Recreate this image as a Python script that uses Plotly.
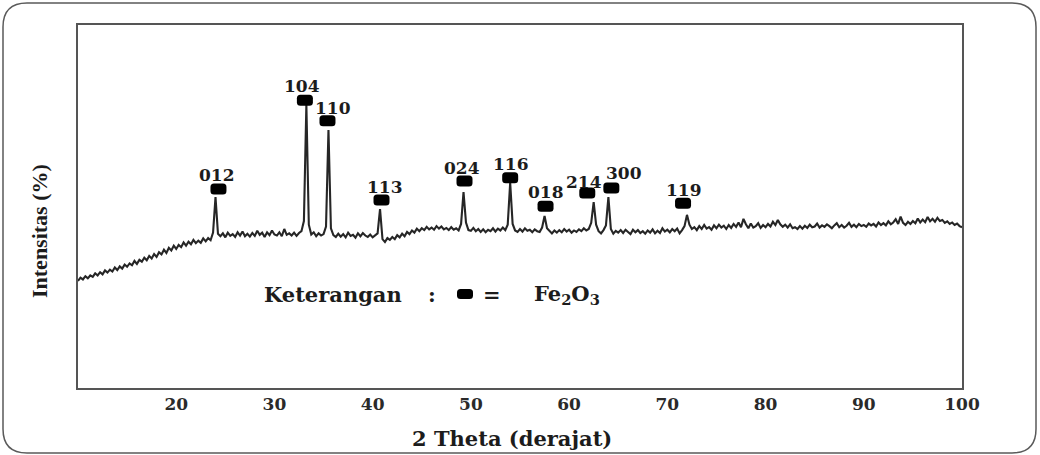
import plotly.graph_objects as go

# ---------------- data ----------------
scan_start = 10.0      # 2-theta of the first sample (degree)
scan_step = 0.25       # 2-theta step between samples (degree)

# intensity (%), one row per degree: values at d+0.00, d+0.25, d+0.50, d+0.75
intensity_rows = [
    [29.5, 30.4, 29.9, 30.8],  # 10
    [30.2, 31.0, 30.6, 31.6],  # 11
    [31.0, 31.9, 31.3, 32.4],  # 12
    [31.8, 32.6, 32.1, 33.2],  # 13
    [32.5, 33.5, 32.9, 34.0],  # 14
    [33.4, 34.3, 33.8, 35.0],  # 15
    [34.2, 35.3, 34.8, 35.9],  # 16
    [35.2, 36.4, 35.7, 36.9],  # 17
    [36.1, 37.4, 36.8, 38.1],  # 18
    [37.2, 38.6, 37.9, 39.2],  # 19
    [38.3, 39.4, 38.8, 40.1],  # 20
    [39.2, 40.3, 39.6, 40.8],  # 21
    [39.9, 40.6, 40.0, 41.2],  # 22
    [40.4, 41.3, 40.7, 42.8],  # 23
    [52.6, 42.5, 41.8, 42.6],  # 24
    [41.5, 42.8, 41.9, 42.4],  # 25
    [41.6, 42.9, 42.0, 43.1],  # 26
    [41.8, 42.5, 41.7, 42.7],  # 27
    [41.9, 43.3, 42.2, 42.8],  # 28
    [41.6, 42.9, 42.1, 43.4],  # 29
    [42.3, 42.0, 42.9, 41.8],  # 30
    [43.8, 42.2, 42.6, 42.0],  # 31
    [42.8, 41.9, 42.7, 43.2],  # 32
    [46.0, 78.0, 45.0, 42.3],  # 33
    [42.9, 41.8, 42.6, 42.0],  # 34
    [42.4, 44.5, 71.1, 44.0],  # 35
    [42.1, 41.6, 42.5, 41.7],  # 36
    [42.4, 41.5, 42.8, 41.9],  # 37
    [42.2, 41.4, 42.6, 41.8],  # 38
    [42.7, 42.0, 41.6, 42.3],  # 39
    [41.5, 42.0, 42.6, 49.3],  # 40
    [41.0, 40.2, 41.3, 40.8],  # 41
    [41.6, 41.0, 42.1, 41.5],  # 42
    [42.5, 41.8, 43.0, 42.4],  # 43
    [43.4, 42.8, 43.9, 43.2],  # 44
    [44.0, 43.5, 44.4, 43.7],  # 45
    [44.2, 43.6, 44.6, 43.9],  # 46
    [44.5, 43.7, 44.1, 43.5],  # 47
    [44.3, 43.6, 44.0, 43.4],  # 48
    [45.2, 54.0, 45.6, 43.5],  # 49
    [43.3, 44.1, 43.2, 43.8],  # 50
    [43.0, 43.7, 42.9, 43.6],  # 51
    [43.2, 44.0, 43.1, 43.9],  # 52
    [43.4, 44.2, 43.5, 45.0],  # 53
    [56.5, 45.2, 43.4, 43.0],  # 54
    [43.8, 43.1, 44.0, 43.3],  # 55
    [43.6, 42.9, 43.7, 43.2],  # 56
    [43.0, 44.2, 47.4, 44.0],  # 57
    [43.2, 42.6, 43.4, 42.8],  # 58
    [43.5, 42.9, 43.8, 43.1],  # 59
    [43.6, 42.8, 43.4, 43.0],  # 60
    [43.7, 43.2, 44.0, 43.4],  # 61
    [43.8, 45.5, 51.2, 45.0],  # 62
    [43.2, 42.6, 43.5, 44.8],  # 63
    [52.6, 43.8, 42.5, 43.3],  # 64
    [42.8, 43.5, 42.7, 43.6],  # 65
    [43.0, 42.4, 43.6, 42.9],  # 66
    [43.5, 42.7, 43.2, 42.5],  # 67
    [43.4, 42.8, 43.7, 42.6],  # 68
    [43.3, 42.7, 44.0, 43.1],  # 69
    [43.6, 42.9, 43.8, 43.2],  # 70
    [43.9, 42.6, 43.5, 44.6],  # 71
    [47.7, 45.0, 43.8, 44.3],  # 72
    [43.5, 44.6, 43.8, 44.9],  # 73
    [43.9, 44.3, 43.6, 44.8],  # 74
    [44.0, 45.0, 44.2, 44.7],  # 75
    [43.8, 44.9, 44.1, 45.2],  # 76
    [44.4, 45.6, 44.3, 46.6],  # 77
    [45.1, 44.0, 45.3, 44.2],  # 78
    [44.6, 45.4, 44.1, 44.9],  # 79
    [44.3, 45.2, 44.5, 45.8],  # 80
    [44.9, 46.3, 45.1, 44.4],  # 81
    [45.0, 44.2, 45.1, 44.0],  # 82
    [44.3, 43.8, 44.6, 43.9],  # 83
    [44.7, 44.1, 45.0, 44.3],  # 84
    [44.5, 45.3, 44.2, 44.8],  # 85
    [44.4, 45.1, 44.6, 44.0],  # 86
    [44.8, 45.4, 44.3, 44.9],  # 87
    [44.2, 44.7, 45.5, 44.4],  # 88
    [45.0, 44.3, 45.2, 44.6],  # 89
    [44.9, 44.4, 45.3, 44.8],  # 90
    [45.2, 44.5, 45.6, 44.9],  # 91
    [45.4, 44.8, 45.9, 45.1],  # 92
    [45.6, 46.5, 45.2, 47.2],  # 93
    [45.5, 44.9, 45.8, 45.2],  # 94
    [46.0, 45.4, 46.7, 45.6],  # 95
    [46.4, 45.7, 47.1, 45.9],  # 96
    [46.6, 45.8, 46.9, 46.0],  # 97
    [46.3, 45.5, 45.9, 45.2],  # 98
    [45.6, 44.9, 45.3, 44.6],  # 99
]
intensity_end = [44.3]  # 100

# Fe2O3 reflections (hkl) and their marker / label positions (2-theta, %)
peak_labels = ["012", "104", "110", "113", "024", "116", "018", "214", "300", "119"]
peak_marker_x = [24.3, 33.1, 35.4, 40.9, 49.35, 54.0, 57.6, 61.85, 64.3, 71.6]
peak_marker_y = [54.8, 79.3, 73.6, 51.8, 57.0, 57.9, 50.1, 53.7, 55.1, 50.9]
peak_label_x = [24.17, 32.85, 36.0, 41.3, 49.05, 54.05, 57.6, 61.5, 65.55, 71.7]
peak_label_y = [58.7, 83.2, 77.1, 55.4, 60.6, 61.7, 54.0, 56.7, 59.2, 54.5]

tick_values = [20, 30, 40, 50, 60, 70, 80, 90, 100]
tick_text = ["20", "30", "40", "50", "60", "70", "80", "90", "100"]

x_title = "2 Theta (derajat)"
y_title = "Intensitas (%)"
note_words = ["Keterangan", ":", "=", "Fe<sub>2</sub>O<sub>3</sub>"]

# ---------------- build ----------------
intensity = [v for row in intensity_rows for v in row] + intensity_end
two_theta = [scan_start + scan_step * i for i in range(len(intensity))]

W, H = 1040, 455
ML, MR, MT, MB = 78, 78, 25, 67
PW, PH = W - ML - MR, H - MT - MB

def px_to_paper_x(px):
    return (px - ML) / PW

def py_to_paper_y(py):
    return (H - MB - py) / PH

def rounded_rect(w, h, r):
    a, b = w / 2, h / 2
    return (f"M {-a + r},{-b} L {a - r},{-b} Q {a},{-b} {a},{-b + r} "
            f"L {a},{b - r} Q {a},{b} {a - r},{b} L {-a + r},{b} "
            f"Q {-a},{b} {-a},{b - r} L {-a},{-b + r} Q {-a},{-b} {-a + r},{-b} Z")

SERIF = "DejaVu Serif"
INK = "#1c1c1c"

fig = go.Figure()
fig.add_trace(go.Scatter(
    x=two_theta, y=intensity, mode="lines",
    line=dict(color="#262626", width=2.1),
    showlegend=False, hoverinfo="skip",
))

# peak markers (rounded black blocks)
for mx, my in zip(peak_marker_x, peak_marker_y):
    fig.add_shape(type="path", xref="x", yref="y",
                  xsizemode="pixel", ysizemode="pixel",
                  xanchor=mx, yanchor=my, path=rounded_rect(16, 11, 3.5),
                  fillcolor="black", line=dict(width=0), layer="above")

# peak labels
for lab, lx, ly in zip(peak_labels, peak_label_x, peak_label_y):
    fig.add_annotation(x=lx, y=ly, xref="x", yref="y", text=lab, showarrow=False,
                       font=dict(family=SERIF, size=17, color=INK, weight="bold"),
                       xanchor="center", yanchor="middle")

# note "Keterangan : [marker] = Fe2O3"
note_y = py_to_paper_y(294)
note_px = [333, 432, 492, 567]
for word, px in zip(note_words, note_px):
    fig.add_annotation(x=px_to_paper_x(px), y=note_y, xref="paper", yref="paper",
                       text=word, showarrow=False,
                       font=dict(family=SERIF, size=21, color=INK, weight="bold"),
                       xanchor="center", yanchor="middle")
fig.add_shape(type="path", xref="paper", yref="paper",
              xsizemode="pixel", ysizemode="pixel",
              xanchor=px_to_paper_x(465), yanchor=note_y,
              path=rounded_rect(16, 10, 3.5), fillcolor="black", line=dict(width=0))

# axis titles
fig.add_annotation(x=px_to_paper_x(512), y=py_to_paper_y(438), xref="paper", yref="paper",
                   text=x_title, showarrow=False,
                   font=dict(family=SERIF, size=21, color=INK, weight="bold"),
                   xanchor="center", yanchor="middle")
fig.add_annotation(x=px_to_paper_x(40), y=py_to_paper_y(231), xref="paper", yref="paper",
                   text=y_title, showarrow=False, textangle=-90,
                   font=dict(family="Liberation Serif", size=22, color=INK, weight="bold"),
                   xanchor="center", yanchor="middle")

# outer rounded frame
x0, x1 = px_to_paper_x(3), px_to_paper_x(1036)
yt, yb = py_to_paper_y(3), py_to_paper_y(453)
rx, ry = 24 / PW, 24 / PH
frame = (f"M {x0 + rx},{yt} L {x1 - rx},{yt} Q {x1},{yt} {x1},{yt - ry} "
         f"L {x1},{yb + ry} Q {x1},{yb} {x1 - rx},{yb} L {x0 + rx},{yb} "
         f"Q {x0},{yb} {x0},{yb + ry} L {x0},{yt - ry} Q {x0},{yt} {x0 + rx},{yt} Z")
fig.add_shape(type="path", xref="paper", yref="paper", path=frame,
              line=dict(color="#5a5a5a", width=1.5), fillcolor="rgba(0,0,0,0)",
              layer="below")

fig.update_layout(
    width=W, height=H, autosize=False,
    margin=dict(l=ML, r=MR, t=MT, b=MB),
    paper_bgcolor="white", plot_bgcolor="white",
    font=dict(family=SERIF, color=INK),
    showlegend=False,
    xaxis=dict(
        range=[10, 100], tickmode="array", tickvals=tick_values, ticktext=tick_text,
        ticks="", showgrid=False, zeroline=False,
        showline=True, linecolor="#555555", linewidth=2, mirror=True,
        tickfont=dict(family=SERIF, size=17, color="#2a2a2a", weight="bold"),
    ),
    yaxis=dict(
        range=[0, 100], showticklabels=False, ticks="", showgrid=False, zeroline=False,
        showline=True, linecolor="#555555", linewidth=2, mirror=True,
    ),
)

fig.write_html("out.html", config={"displayModeBar": False},
               post_script="document.body.style.margin='0';")
